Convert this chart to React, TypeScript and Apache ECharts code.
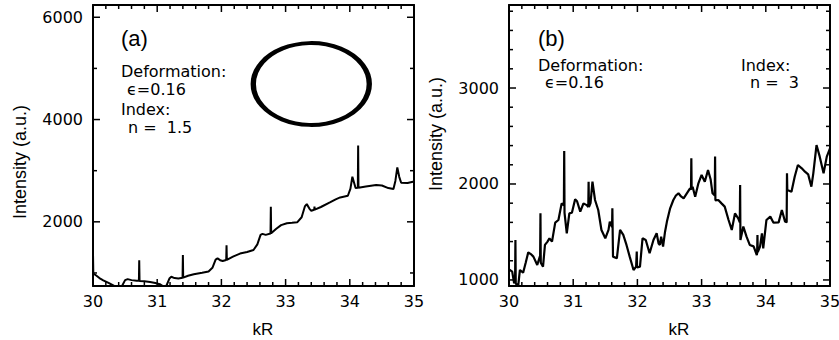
import React, { useEffect, useRef } from "react";
import * as echarts from "echarts";

// Panel (a): n = 1.5
const aKR = [30.0, 30.005, 30.05, 30.1, 30.16, 30.25, 30.33, 30.4, 30.45, 30.5, 30.54, 30.6, 30.68, 30.715, 30.72, 30.725, 30.8, 30.89, 30.97, 31.04, 31.1, 31.14, 31.19, 31.22, 31.27, 31.33, 31.395, 31.4, 31.405, 31.48, 31.57, 31.7, 31.8, 31.86, 31.91, 31.94, 31.98, 32.02, 32.075, 32.08, 32.085, 32.18, 32.29, 32.4, 32.5, 32.56, 32.61, 32.64, 32.69, 32.765, 32.77, 32.775, 32.85, 32.93, 33.02, 33.1, 33.18, 33.25, 33.3, 33.33, 33.37, 33.4, 33.445, 33.45, 33.455, 33.55, 33.69, 33.78, 33.85, 33.97, 34.01, 34.04, 34.07, 34.09, 34.125, 34.13, 34.135, 34.25, 34.41, 34.5, 34.6, 34.68, 34.71, 34.74, 34.77, 34.8, 34.9, 35.0];
const aInt = [1380, 990, 950, 900, 857, 800, 745, 715, 740, 860, 880, 860, 848, 846, 1250, 845, 838, 825, 805, 780, 735, 740, 890, 925, 900, 892, 905, 1353, 908, 945, 975, 1005, 1030, 1100, 1260, 1285, 1250, 1235, 1255, 1543, 1258, 1320, 1379, 1410, 1450, 1560, 1745, 1765, 1745, 1770, 2294, 1775, 1860, 1935, 1973, 1980, 1990, 2090, 2300, 2346, 2260, 2216, 2235, 2300, 2240, 2290, 2379, 2440, 2477, 2510, 2650, 2882, 2750, 2660, 2665, 3490, 2668, 2690, 2720, 2710, 2660, 2640, 2800, 3064, 2880, 2765, 2760, 2790];
// Inset cavity shape (ellipse) centre in panel (a) data coordinates
const aShapeCentre = [33.4, 4695];

// Panel (b): n = 3
const bKR = [30.0, 30.05, 30.08, 30.095, 30.1, 30.105, 30.145, 30.17, 30.22, 30.26, 30.3, 30.34, 30.38, 30.44, 30.48, 30.485, 30.49, 30.495, 30.53, 30.56, 30.6, 30.63, 30.67, 30.72, 30.77, 30.82, 30.855, 30.86, 30.865, 30.9, 30.94, 30.98, 31.03, 31.06, 31.11, 31.16, 31.21, 31.235, 31.24, 31.245, 31.27, 31.3, 31.34, 31.39, 31.44, 31.5, 31.55, 31.57, 31.605, 31.61, 31.62, 31.68, 31.73, 31.78, 31.83, 31.88, 31.94, 31.98, 31.985, 31.99, 31.995, 32.04, 32.08, 32.13, 32.19, 32.25, 32.3, 32.33, 32.35, 32.37, 32.4, 32.43, 32.46, 32.51, 32.56, 32.6, 32.64, 32.68, 32.72, 32.77, 32.82, 32.835, 32.84, 32.845, 32.86, 32.9, 32.95, 33.0, 33.05, 33.1, 33.14, 33.17, 33.205, 33.21, 33.215, 33.26, 33.31, 33.36, 33.42, 33.47, 33.52, 33.57, 33.595, 33.6, 33.605, 33.65, 33.7, 33.75, 33.81, 33.86, 33.865, 33.87, 33.875, 33.91, 33.94, 33.96, 34.01, 34.07, 34.12, 34.2, 34.25, 34.3, 34.325, 34.33, 34.335, 34.4, 34.45, 34.5, 34.56, 34.61, 34.66, 34.71, 34.74, 34.79, 34.84, 34.9, 34.95, 35.0];
const bInt = [1111, 1087, 965, 1000, 1417, 960, 948, 1104, 1076, 1180, 1288, 1270, 1243, 1156, 1243, 1250, 1694, 1180, 1139, 1365, 1400, 1434, 1399, 1597, 1625, 1798, 1780, 2344, 1700, 1486, 1694, 1700, 1840, 1820, 1712, 1798, 1780, 1760, 2024, 1760, 1800, 2024, 1833, 1729, 1521, 1434, 1521, 1608, 1550, 1746, 1243, 1226, 1521, 1469, 1365, 1243, 1104, 1139, 1140, 1295, 1130, 1139, 1434, 1417, 1278, 1417, 1486, 1380, 1365, 1450, 1347, 1500, 1608, 1746, 1833, 1880, 1903, 1870, 1851, 1903, 1955, 1940, 2267, 1950, 1972, 1868, 2007, 2094, 2024, 2146, 2050, 1903, 1880, 2285, 1830, 1833, 1798, 1764, 1625, 1521, 1694, 1642, 1600, 1989, 1417, 1556, 1451, 1365, 1350, 1260, 1280, 1469, 1290, 1347, 1486, 1330, 1625, 1660, 1597, 1600, 1729, 1608, 1600, 2111, 1937, 1920, 2076, 2198, 2163, 2128, 2100, 1972, 2111, 2406, 2285, 2111, 2285, 2371];

// Tick values
const xMajorTicks = [30, 31, 32, 33, 34, 35];
const xMinorTicks = [30.2, 30.4, 30.6, 30.8, 31.2, 31.4, 31.6, 31.8, 32.2, 32.4, 32.6, 32.8, 33.2, 33.4, 33.6, 33.8, 34.2, 34.4, 34.6, 34.8];
const aYLabelTicks = [2000, 4000, 6000];
const aYMinorTicks = [1000, 3000, 5000];
const bYLabelTicks = [1000, 2000, 3000];
const bYMinorTicks = [1200, 1400, 1600, 1800, 2200, 2400, 2600, 2800, 3200, 3400, 3600, 3800];

const X_MIN = 30;
const X_MAX = 35;
const A_Y = [745, 6240];
const B_Y = [937, 3865];

const WIDE = "DejaVu Sans";
const HELV = "Liberation Sans";

const plain = (v: number) => String(Math.round(v));
const LINE = { show: true, onZero: false, lineStyle: { color: "#000", width: 2 } };

function xAxes(gridIndex: number) {
  const base = { type: "value", gridIndex, min: X_MIN, max: X_MAX, interval: 1, splitLine: { show: false }, axisTick: { show: false }, axisLine: LINE };
  return [
    {
      ...base,
      position: "bottom",
      name: "kR",
      nameLocation: "middle",
      nameGap: 35,
      nameTextStyle: { color: "#000", fontSize: 17, fontFamily: HELV, padding: [0, 0, 0, 19] },
      axisLabel: { show: true, color: "#000", fontSize: 16, fontFamily: WIDE, margin: 7, formatter: plain },
    },
    { ...base, position: "top", axisLabel: { show: false } },
  ];
}

function yAxes(gridIndex: number, range: number[], labels: number[], namePad: number[]) {
  const base = { type: "value", gridIndex, min: range[0], max: range[1], splitLine: { show: false }, axisTick: { show: false }, axisLine: LINE };
  return [
    {
      ...base,
      position: "left",
      name: "Intensity (a.u.)",
      nameLocation: "middle",
      nameGap: 64,
      nameTextStyle: { color: "#000", fontSize: 18, fontFamily: HELV, padding: namePad },
      axisLabel: { show: true, customValues: labels, color: "#000", fontSize: 16, fontFamily: WIDE, margin: 10, formatter: plain },
    },
    { ...base, position: "right", axisLabel: { show: false } },
  ];
}

// Inward tick marks on all four sides, placed through the axes' own scales
function tickSeries(xi: number, yi: number, values: number[], dir: "x" | "y", len: number, yMin: number) {
  return {
    type: "custom",
    xAxisIndex: xi,
    yAxisIndex: yi,
    clip: false,
    silent: true,
    z: 5,
    data: values.map((v) => (dir === "x" ? [v, yMin] : [X_MIN, v])),
    encode: { x: 0, y: 1 },
    renderItem: (params: any, api: any) => {
      const cs = params.coordSys;
      const p = api.coord([api.value(0), api.value(1)]);
      const style = { stroke: "#000", lineWidth: 1.5, fill: "none" };
      if (dir === "x") {
        const b = cs.y + cs.height;
        const t = cs.y;
        return {
          type: "group",
          children: [
            { type: "line", shape: { x1: p[0], y1: b, x2: p[0], y2: b - len }, style },
            { type: "line", shape: { x1: p[0], y1: t, x2: p[0], y2: t + len }, style },
          ],
        };
      }
      const l = cs.x;
      const r = cs.x + cs.width;
      return {
        type: "group",
        children: [
          { type: "line", shape: { x1: l, y1: p[1], x2: l + len, y2: p[1] }, style },
          { type: "line", shape: { x1: r, y1: p[1], x2: r - len, y2: p[1] }, style },
        ],
      };
    },
  };
}

function zip(xs: number[], ys: number[]) {
  return xs.map((x, i) => [x, ys[i]]);
}

function label(text: string, left: number, centreY: number, size: number, family: string) {
  return {
    text,
    left,
    top: centreY - size / 2,
    padding: 0,
    textStyle: { color: "#000", fontSize: size, fontFamily: family, fontWeight: "normal", lineHeight: size },
  };
}

export default function App() {
  const ref = useRef<HTMLDivElement>(null);
  useEffect(() => {
    if (!ref.current) return;
    const chart = echarts.init(ref.current, null, { renderer: "svg" });
    chart.setOption({
      animation: false,
      title: [
        label("(a)", 121, 38, 22, HELV),
        label("Deformation:", 121, 71, 16, WIDE),
        label("\u03F5=0.16", 127, 89, 16, WIDE),
        label("Index:", 121, 109, 16, WIDE),
        label("n =  1.5", 128, 127, 16, WIDE),
        label("(b)", 538, 38, 22, HELV),
        label("Deformation:", 538, 65, 16, WIDE),
        label("\u03F5=0.16", 545, 82, 16, WIDE),
        label("Index:", 741, 65, 16, WIDE),
        label("n =  3", 750, 82, 16, WIDE),
      ],
      grid: [
        { left: 93, top: 5, width: 321, height: 281, containLabel: false, outerBoundsMode: "none" },
        { left: 509, top: 5, width: 321, height: 281, containLabel: false, outerBoundsMode: "none" },
      ],
      xAxis: [...xAxes(0), ...xAxes(1)],
      yAxis: [
        ...yAxes(0, A_Y, aYLabelTicks, [0, 33, 0, 0]),
        ...yAxes(1, B_Y, bYLabelTicks, [0, 0, 0, 23]),
      ],
      series: [
        {
          type: "line",
          xAxisIndex: 0,
          yAxisIndex: 0,
          data: zip(aKR, aInt),
          showSymbol: false,
          symbol: "none",
          clip: true,
          lineStyle: { color: "#000", width: 2 },
        },
        {
          type: "scatter",
          xAxisIndex: 0,
          yAxisIndex: 0,
          data: [aShapeCentre],
          symbol: "circle",
          symbolSize: [116, 82],
          silent: true,
          itemStyle: { color: "rgba(0,0,0,0)", borderColor: "#000", borderWidth: 4.5, opacity: 1 },
        },
        {
          type: "line",
          xAxisIndex: 2,
          yAxisIndex: 2,
          data: zip(bKR, bInt),
          showSymbol: false,
          symbol: "none",
          clip: true,
          lineStyle: { color: "#000", width: 2.2 },
        },
        // Panel (a) ticks
        tickSeries(0, 0, xMajorTicks, "x", 7, A_Y[0]),
        tickSeries(0, 0, xMinorTicks, "x", 4, A_Y[0]),
        tickSeries(0, 0, aYLabelTicks, "y", 7, A_Y[0]),
        tickSeries(0, 0, aYMinorTicks, "y", 4, A_Y[0]),
        // Panel (b) ticks
        tickSeries(2, 2, xMajorTicks, "x", 7, B_Y[0]),
        tickSeries(2, 2, xMinorTicks, "x", 4, B_Y[0]),
        tickSeries(2, 2, bYLabelTicks, "y", 7, B_Y[0]),
        tickSeries(2, 2, bYMinorTicks, "y", 4, B_Y[0]),
      ],
    });
    return () => chart.dispose();
  }, []);
  return (
    <div
      ref={ref}
      style={{ position: "absolute", left: 0, top: 0, width: 839, height: 340, background: "#fff" }}
    />
  );
}
